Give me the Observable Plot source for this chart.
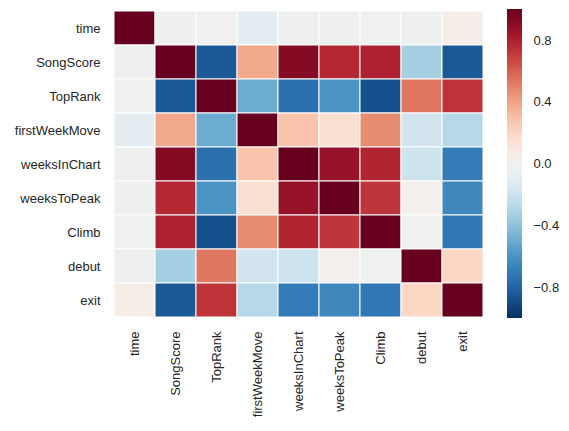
<!DOCTYPE html>
<html>
<head>
<meta charset="utf-8">
<script src="https://cdn.jsdelivr.net/npm/d3@7"></script>
<script src="https://cdn.jsdelivr.net/npm/@observablehq/plot@0.6"></script>
<style>
  html, body { margin: 0; padding: 0; background: #fff; }
  #wrap { position: relative; width: 569px; height: 431px; }
  #main { position: absolute; left: 0; top: 0; }
  #cbar { position: absolute; left: 490px; top: 0; }
</style>
</head>
<body>
<div id="wrap"><div id="main"></div><div id="cbar"></div></div>
<script>
const variables = ["time","SongScore","TopRank","firstWeekMove","weeksInChart","weeksToPeak","Climb","debut","exit"];
const corrTime          = [ 1.00, -0.03, -0.01, -0.10, -0.03, -0.03, -0.02, -0.03,  0.05];
const corrSongScore     = [-0.03,  1.00, -0.85,  0.38,  0.92,  0.77,  0.80, -0.33, -0.85];
const corrTopRank       = [-0.01, -0.85,  1.00, -0.50, -0.75, -0.60, -0.88,  0.53,  0.73];
const corrFirstWeekMove = [-0.10,  0.38, -0.50,  1.00,  0.28,  0.15,  0.47, -0.18, -0.28];
const corrWeeksInChart  = [-0.03,  0.92, -0.75,  0.28,  1.00,  0.87,  0.78, -0.20, -0.70];
const corrWeeksToPeak   = [-0.03,  0.77, -0.60,  0.15,  0.87,  1.00,  0.72,  0.01, -0.65];
const corrClimb         = [-0.02,  0.80, -0.88,  0.47,  0.78,  0.72,  1.00, -0.02, -0.72];
const corrDebut         = [-0.03, -0.33,  0.53, -0.18, -0.20,  0.01, -0.02,  1.00,  0.20];
const corrExit          = [ 0.05, -0.85,  0.73, -0.28, -0.70, -0.65, -0.72,  0.20,  1.00];
const colorbarTicks = [-0.8, -0.4, 0, 0.4, 0.8];

const rows = [corrTime, corrSongScore, corrTopRank, corrFirstWeekMove, corrWeeksInChart, corrWeeksToPeak, corrClimb, corrDebut, corrExit];
const cells = [];
rows.forEach((r, i) => r.forEach((v, j) => cells.push({row: variables[i], col: variables[j], value: v})));

const font = "'Liberation Sans', Arial, sans-serif";
const colorOpts = {type: "linear", scheme: "rdbu", reverse: true, domain: [-1, 1]};

const main = Plot.plot({
  width: 569, height: 431,
  marginLeft: 113, marginRight: 86, marginTop: 10, marginBottom: 113,
  style: {fontFamily: font, fontSize: "13px", color: "#262626", background: "#fff"},
  x: {domain: variables, padding: 0, label: null, tickSize: 0, tickPadding: 13, tickRotate: -90},
  y: {domain: variables, padding: 0, label: null, tickSize: 0, tickPadding: 13},
  color: colorOpts,
  marks: [
    Plot.cell(cells, {x: "col", y: "row", fill: "value", stroke: "white", strokeWidth: 1, inset: 0})
  ]
});
document.getElementById("main").appendChild(main);

const bands = d3.range(200).map(i => ({y1: -1 + i * 0.01, y2: -1 + (i + 1) * 0.01}));
const cbar = Plot.plot({
  width: 79, height: 431,
  marginLeft: 17, marginRight: 47, marginTop: 9, marginBottom: 113,
  style: {fontFamily: font, fontSize: "13px", color: "#262626", background: "transparent"},
  y: {domain: [-1, 1], axis: "right", ticks: colorbarTicks, tickFormat: d3.format(".1f"), tickSize: 0, tickPadding: 11, label: null},
  color: colorOpts,
  marks: [
    Plot.rect(bands, {y1: "y1", y2: "y2", fill: d => (d.y1 + d.y2) / 2, shapeRendering: "crispEdges"})
  ]
});
document.getElementById("cbar").appendChild(cbar);
</script>
</body>
</html>
